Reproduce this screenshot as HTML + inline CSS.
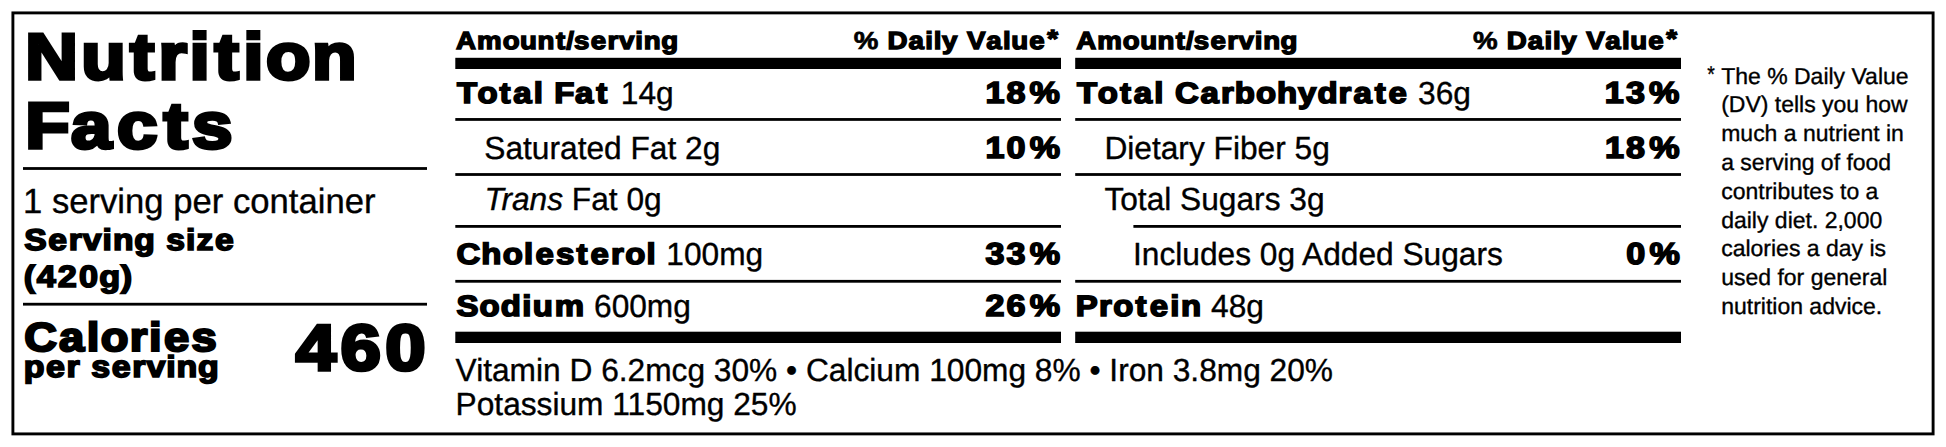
<!DOCTYPE html>
<html lang="en"><head><meta charset="utf-8"><title>Nutrition Facts</title>
<style>
html,body{margin:0;padding:0;background:#fff;}
body{width:1946px;height:447px;overflow:hidden;}
svg{display:block;}
text{font-family:"Liberation Sans",Arial,Helvetica,sans-serif;fill:#000;white-space:pre;text-rendering:geometricPrecision;}
</style></head><body>
<svg width="1946" height="447" viewBox="0 0 1946 447">
<rect width="1946" height="447" fill="#fff"/>
<g id="rules">
<rect x="12.9" y="12.9" width="1920.2" height="421" fill="none" stroke="#000" stroke-width="2.9"/>
<rect x="23" y="167.1" width="404" height="2.8"/>
<rect x="23" y="302.8" width="404" height="2.8"/>
<rect x="455.3" y="57.8" width="605.7" height="11.2"/>
<rect x="1075.2" y="57.8" width="605.8" height="11.2"/>
<rect x="455.3" y="331.7" width="605.7" height="11.3"/>
<rect x="1075.2" y="331.7" width="605.8" height="11.3"/>
<rect x="455.3" y="118.05" width="605.7" height="2.8"/>
<rect x="1075.2" y="118.05" width="605.8" height="2.8"/>
<rect x="455.3" y="173.10" width="605.7" height="2.8"/>
<rect x="1075.2" y="173.10" width="605.8" height="2.8"/>
<rect x="455.3" y="225.00" width="605.7" height="2.8"/>
<rect x="1133.4" y="225.00" width="547.6" height="2.8"/>
<rect x="455.3" y="279.90" width="605.7" height="2.8"/>
<rect x="1075.2" y="279.90" width="605.8" height="2.8"/>
</g>
<g id="panel-left">
<text id="nutrition" transform="translate(22.730 79.200) scale(1.12000 1)" font-size="65.066" x="2.27 52.29 95.68 121.31 148.96 171.19 197.01 217.11 258.37" font-weight="bold" stroke="#000" stroke-width="3.600" stroke-linejoin="miter">Nutrition</text>
<text id="facts" transform="translate(24.474 148.200) scale(1.12000 1)" font-size="65.066" x="0.72 41.46 82.64 124.20 149.50" font-weight="bold" stroke="#000" stroke-width="3.600" stroke-linejoin="miter">Facts</text>
<text id="spc" transform="translate(23.000 213.000) scale(0.99365 1)" font-size="34.884" stroke="#000" stroke-width="0.35">1 serving per container</text>
<text id="ssize" transform="translate(23.860 249.568) scale(1.12000 1)" font-size="30.060" x="0.28 21.76 40.12 52.66 70.31 79.57 98.60 117.87 127.16 144.81 154.15 170.76" font-weight="bold" stroke="#000" stroke-width="1.663" stroke-linejoin="miter">Serving size</text>
<text id="g420" transform="translate(23.240 287.483) scale(1.12000 1)" font-size="30.619" x="0.42 11.97 30.88 49.79 67.87 87.09" font-weight="bold" stroke="#000" stroke-width="1.634" stroke-linejoin="miter">(420g)</text>
<text id="cal" transform="translate(23.879 350.580) scale(1.12000 1)" font-size="40.471" x="0.31 31.39 56.21 68.65 94.45 111.61 125.16 149.68" font-weight="bold" stroke="#000" stroke-width="2.239" stroke-linejoin="miter">Calories</text>
<text id="perserv" transform="translate(23.431 376.961) scale(1.12000 1)" font-size="30.321" x="0.27 20.15 38.55 51.34 60.60 78.86 97.26 109.80 127.50 136.74 155.79" font-weight="bold" stroke="#000" stroke-width="1.678" stroke-linejoin="miter">per serving</text>
<text id="n460" transform="translate(293.550 369.968) scale(1.12000 1)" font-size="64.879" x="1.96 41.97 81.98" font-weight="bold" stroke="#000" stroke-width="3.463" stroke-linejoin="miter">460</text>
</g>
<g id="nutrients-col-1">
<text id="amt1" transform="translate(455.840 48.616) scale(1.12000 1)" font-size="24.725" x="0.16 18.87 41.79 57.38 72.97 89.39 98.50 105.45 120.38 135.42 145.69 160.16 167.72 183.31" font-weight="bold" stroke="#000" stroke-width="1.368" stroke-linejoin="miter">Amount/serving</text>
<text id="dv1" transform="translate(853.130 48.616) scale(1.12000 1)" font-size="24.725" x="0.52 23.41 30.70 49.38 64.33 71.99 79.41 93.72 101.69 118.85 133.80 141.19 157.22 173.36" dy="0 0 0 0 0 0 0 0 0 0 0 0 0 -1.62" font-weight="bold" stroke="#000" stroke-width="1.368" stroke-linejoin="miter"><tspan stroke-width="0.684">%</tspan> Daily Value*</text>
<text id="tfat" transform="translate(455.601 102.886) scale(1.12000 1)" font-size="29.410" x="1.15 19.62 39.29 51.59 69.72 79.06 88.19 106.70 125.56" font-weight="bold" stroke="#000" stroke-width="1.627" stroke-linejoin="miter">Total Fat</text>
<text id="tfat_v" transform="translate(620.770 103.700) scale(0.99100 1)" font-size="31.977" stroke="#000" stroke-width="0.35">14g</text>
<text id="p18" transform="translate(984.400 102.886) scale(1.12000 1)" font-size="30.484" x="0.92 19.72 40.34" font-weight="bold" stroke="#000" stroke-width="1.627" stroke-linejoin="miter">18%</text>
<text id="sat" transform="translate(484.300 158.600) scale(0.99100 1)" font-size="31.977" stroke="#000" stroke-width="0.35">Saturated Fat 2g</text>
<text id="p10" transform="translate(984.500 157.786) scale(1.12000 1)" font-size="30.484" x="0.92 19.72 40.34" font-weight="bold" stroke="#000" stroke-width="1.627" stroke-linejoin="miter">10%</text>
<text id="trans" transform="translate(484.400 210.200) scale(0.99100 1)" font-size="31.977" stroke="#000" stroke-width="0.35"><tspan font-style="italic">Trans</tspan> Fat 0g</text>
<text id="chol" transform="translate(455.897 264.386) scale(1.12000 1)" font-size="29.410" x="0.48 22.73 41.76 60.92 71.10 89.33 107.66 120.22 138.53 151.11 170.28" font-weight="bold" stroke="#000" stroke-width="1.627" stroke-linejoin="miter">Cholesterol</text>
<text id="chol_v" transform="translate(666.270 265.200) scale(0.99100 1)" font-size="31.977" stroke="#000" stroke-width="0.35">100mg</text>
<text id="p33" transform="translate(984.500 264.386) scale(1.12000 1)" font-size="30.484" x="0.92 19.72 40.34" font-weight="bold" stroke="#000" stroke-width="1.627" stroke-linejoin="miter">33%</text>
<text id="sod" transform="translate(455.914 316.486) scale(1.12000 1)" font-size="29.410" x="0.49 21.12 40.14 59.30 68.66 88.34" font-weight="bold" stroke="#000" stroke-width="1.627" stroke-linejoin="miter">Sodium</text>
<text id="sod_v" transform="translate(594.014 317.300) scale(0.99100 1)" font-size="31.977" stroke="#000" stroke-width="0.35">600mg</text>
<text id="p26" transform="translate(984.500 316.486) scale(1.12000 1)" font-size="30.484" x="0.92 19.72 40.34" font-weight="bold" stroke="#000" stroke-width="1.627" stroke-linejoin="miter">26%</text>
</g>
<g id="nutrients-col-2">
<text id="amt2" transform="translate(1076.185 48.616) scale(1.12000 1)" font-size="24.725" x="0.12 18.74 41.58 57.10 72.62 88.97 98.05 104.95 119.82 134.80 145.01 159.43 166.95 182.47" font-weight="bold" stroke="#000" stroke-width="1.368" stroke-linejoin="miter">Amount/serving</text>
<text id="dv2" transform="translate(1472.557 48.616) scale(1.12000 1)" font-size="24.725" x="0.49 23.35 30.62 49.26 64.18 71.83 79.23 93.51 101.45 118.58 133.51 140.87 156.87 172.98" dy="0 0 0 0 0 0 0 0 0 0 0 0 0 -1.62" font-weight="bold" stroke="#000" stroke-width="1.368" stroke-linejoin="miter"><tspan stroke-width="0.684">%</tspan> Daily Value*</text>
<text id="tcarb" transform="translate(1075.630 102.886) scale(1.12000 1)" font-size="29.410" x="1.21 19.80 39.57 51.97 70.18 79.58 88.72 111.56 129.70 142.12 160.95 179.78 198.62 215.86 234.80 248.02 266.98 279.38" font-weight="bold" stroke="#000" stroke-width="1.627" stroke-linejoin="miter">Total Carbohydrate</text>
<text id="tcarb_v" transform="translate(1418.009 103.700) scale(0.99100 1)" font-size="31.977" stroke="#000" stroke-width="0.35">36g</text>
<text id="p13" transform="translate(1603.800 102.886) scale(1.12000 1)" font-size="30.484" x="0.92 19.72 40.34" font-weight="bold" stroke="#000" stroke-width="1.627" stroke-linejoin="miter">13%</text>
<text id="fiber" transform="translate(1104.400 158.600) scale(0.99100 1)" font-size="31.977" stroke="#000" stroke-width="0.35">Dietary Fiber 5g</text>
<text id="p18b" transform="translate(1604.000 157.786) scale(1.12000 1)" font-size="30.484" x="0.92 19.72 40.34" font-weight="bold" stroke="#000" stroke-width="1.627" stroke-linejoin="miter">18%</text>
<text id="sug" transform="translate(1104.400 210.200) scale(0.99100 1)" font-size="31.977" stroke="#000" stroke-width="0.35">Total Sugars 3g</text>
<text id="added" transform="translate(1132.975 265.200) scale(0.99100 1)" font-size="31.977" stroke="#000" stroke-width="0.35">Includes 0g Added Sugars</text>
<text id="p0" transform="translate(1625.300 264.386) scale(1.12000 1)" font-size="30.484" x="0.92 21.54" font-weight="bold" stroke="#000" stroke-width="1.627" stroke-linejoin="miter">0%</text>
<text id="prot" transform="translate(1075.050 316.486) scale(1.12000 1)" font-size="29.410" x="0.55 21.35 34.02 54.03 66.68 85.11 94.55" font-weight="bold" stroke="#000" stroke-width="1.627" stroke-linejoin="miter">Protein</text>
<text id="prot_v" transform="translate(1211.104 317.300) scale(0.99100 1)" font-size="31.977" stroke="#000" stroke-width="0.35">48g</text>
</g>
<g id="vitamins">
<text id="vit1" transform="translate(455.600 380.700) scale(0.99100 1)" font-size="31.977" stroke="#000" stroke-width="0.35">Vitamin D 6.2mcg 30% • Calcium 100mg 8% • Iron 3.8mg 20%</text>
<text id="vit2" transform="translate(455.600 414.700) scale(0.99100 1)" font-size="31.977" stroke="#000" stroke-width="0.35">Potassium 1150mg 25%</text>
</g>
<g id="footnote">
<text id="fnstar" transform="translate(1707.188 82.000) scale(0.84706 1)" font-size="22.994" stroke="#000" stroke-width="0.35">*</text>
<text id="fn0" transform="translate(1721.200 83.600) scale(1.00000 1)" font-size="22.994" stroke="#000" stroke-width="0.35">The % Daily Value</text>
<text id="fn1" transform="translate(1721.200 112.390) scale(1.00000 1)" font-size="22.994" stroke="#000" stroke-width="0.35">(DV) tells you how</text>
<text id="fn2" transform="translate(1721.200 141.180) scale(1.00000 1)" font-size="22.994" stroke="#000" stroke-width="0.35">much a nutrient in</text>
<text id="fn3" transform="translate(1721.200 169.970) scale(1.00000 1)" font-size="22.994" stroke="#000" stroke-width="0.35">a serving of food</text>
<text id="fn4" transform="translate(1721.200 198.760) scale(1.00000 1)" font-size="22.994" stroke="#000" stroke-width="0.35">contributes to a</text>
<text id="fn5" transform="translate(1721.200 227.550) scale(1.00000 1)" font-size="22.994" stroke="#000" stroke-width="0.35">daily diet. 2,000</text>
<text id="fn6" transform="translate(1721.200 256.340) scale(1.00000 1)" font-size="22.994" stroke="#000" stroke-width="0.35">calories a day is</text>
<text id="fn7" transform="translate(1721.200 285.130) scale(1.00000 1)" font-size="22.994" stroke="#000" stroke-width="0.35">used for general</text>
<text id="fn8" transform="translate(1721.200 313.920) scale(1.00000 1)" font-size="22.994" stroke="#000" stroke-width="0.35">nutrition advice.</text>
</g>

</svg>
</body></html>
